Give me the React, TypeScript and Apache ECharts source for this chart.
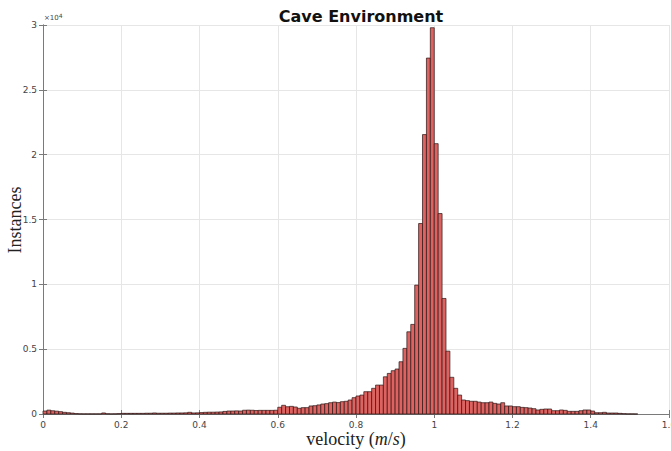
import React, { useEffect, useRef } from "react";
import * as echarts from "echarts";

// Histogram of velocities, bin width 0.01 m/s from 0 to 1.6
const binWidth = 0.01;
const xTicks = [0, 0.2, 0.4, 0.6, 0.8, 1.0, 1.2, 1.4, 1.6];
const yTickLabels = ["0", "0.5", "1", "1.5", "2", "2.5", "3"];

const counts00to20 = [
  230, 300, 250, 220, 180, 130, 100, 70, 30, 15,
  10, 10, 10, 10, 10, 80, 20, 10, 15, 30,
];
const counts20to40 = [
  50, 50, 50, 50, 50, 50, 60, 60, 80, 60,
  60, 60, 70, 70, 80, 80, 90, 130, 80, 90,
];
const counts40to60 = [
  110, 130, 140, 140, 150, 160, 200, 230, 230, 240,
  230, 290, 300, 290, 270, 280, 280, 280, 280, 290,
];
const counts60to80 = [
  520, 670, 560, 590, 540, 440, 490, 490, 620, 640,
  700, 770, 800, 870, 920, 880, 950, 980, 1080, 1260,
];
const counts80to100 = [
  1390, 1460, 1720, 1720, 1980, 2230, 2230, 2870, 3130, 3340,
  3470, 4030, 5060, 6340, 6910, 9940, 14690, 21550, 27450, 29790,
];
const counts100to120 = [
  20850, 15460, 8910, 4850, 2830, 1980, 1460, 1080, 1030, 980,
  980, 920, 870, 870, 920, 820, 770, 870, 620, 620,
];
const counts120to140 = [
  565, 565, 510, 490, 460, 410, 310, 360, 385, 385,
  255, 255, 310, 280, 205, 205, 205, 255, 310, 310,
];
const counts140to160 = [
  230, 100, 100, 130, 77, 77, 77, 50, 25, 10,
  10, 5, 0, 0, 0, 0, 0, 0, 0, 0,
];

const counts = [
  ...counts00to20,
  ...counts20to40,
  ...counts40to60,
  ...counts60to80,
  ...counts80to100,
  ...counts100to120,
  ...counts120to140,
  ...counts140to160,
];

const xAxisTitle = "velocity ({i|m}/{i|s})";
const yAxisTitle = "Instances";

export default function App() {
  const ref = useRef<HTMLDivElement>(null);

  useEffect(() => {
    document.body.style.margin = "0";
    if (!ref.current) return;
    const chart = echarts.init(ref.current, undefined, { renderer: "svg" });

    const data = counts.map((c, i) => [
      +(i * binWidth).toFixed(2),
      +((i + 1) * binWidth).toFixed(2),
      c,
    ]);

    const axisColor = "#7a7a7a";
    const gridColor = "#e6e6e6";
    const labelColor = "#444";
    const tickFont = "DejaVu Sans";
    const serif = "Liberation Serif";

    chart.setOption({
      animation: false,
      backgroundColor: "#ffffff",
      title: {
        text: "Cave Environment",
        left: 356,
        top: 3,
        textAlign: "center",
        textStyle: {
          fontFamily: "DejaVu Sans",
          fontWeight: "bold",
          fontSize: 16,
          color: "#111",
        },
      },
      grid: { left: 43, right: 2, top: 25, bottom: 37, containLabel: false, outerBoundsMode: "none" },
      xAxis: [
        {
          type: "value",
          min: 0,
          max: 1.6,
          interval: 0.2,
          axisLine: { show: true, lineStyle: { color: axisColor, width: 1 } },
          axisTick: { show: true, inside: true, length: 4, lineStyle: { color: axisColor } },
          axisLabel: {
            fontFamily: tickFont,
            fontSize: 9,
            color: labelColor,
            margin: 6,
            formatter: (v: number) => {
              const idx = xTicks.findIndex((t) => Math.abs(t - v) < 1e-6);
              if (idx < 0) return "";
              return String(+xTicks[idx].toFixed(1));
            },
          },
          splitLine: { show: true, lineStyle: { color: gridColor, width: 1 } },
        },
        {
          type: "value",
          position: "top",
          min: 0,
          max: 1.6,
          interval: 0.2,
          axisLine: { show: true, lineStyle: { color: axisColor, width: 1 } },
          axisTick: { show: true, inside: true, length: 4, lineStyle: { color: axisColor } },
          axisLabel: { show: false },
          splitLine: { show: false },
        },
      ],
      yAxis: [
        {
          type: "value",
          min: 0,
          max: 30000,
          interval: 5000,
          axisLine: { show: true, lineStyle: { color: axisColor, width: 1 } },
          axisTick: { show: true, inside: true, length: 4, lineStyle: { color: axisColor } },
          axisLabel: {
            fontFamily: tickFont,
            fontSize: 9,
            color: labelColor,
            margin: 6,
            formatter: (v: number) => yTickLabels[Math.round(v / 5000)] ?? "",
          },
          splitLine: { show: true, lineStyle: { color: gridColor, width: 1 } },
        },
        {
          type: "value",
          position: "right",
          min: 0,
          max: 30000,
          interval: 5000,
          axisLine: { show: true, lineStyle: { color: axisColor, width: 1 } },
          axisTick: { show: true, inside: true, length: 4, lineStyle: { color: axisColor } },
          axisLabel: { show: false },
          splitLine: { show: false },
        },
      ],
      graphic: [
        {
          type: "text",
          left: 44,
          top: 12,
          style: {
            rich: {
              a: { fontFamily: tickFont, fontSize: 7, fill: labelColor },
              s: { fontFamily: tickFont, fontSize: 6, fill: labelColor, verticalAlign: "top", padding: [0, 0, 5, 0] },
            },
            text: "{a|×10}{s|4}",
          },
        },
        {
          type: "text",
          x: 356,
          y: 439,
          style: {
            text: xAxisTitle,
            align: "center",
            verticalAlign: "middle",
            fontFamily: serif,
            fontSize: 18,
            fill: "#222",
            rich: {
              i: { fontFamily: serif, fontStyle: "italic", fontSize: 18, fill: "#222" },
            },
          },
        },
        {
          type: "text",
          x: 15,
          y: 220,
          rotation: Math.PI / 2,
          style: {
            text: yAxisTitle,
            align: "center",
            verticalAlign: "middle",
            fontFamily: serif,
            fontSize: 18,
            fill: "#222",
          },
        },
      ],
      series: [
        {
          type: "custom",
          xAxisIndex: 0,
          yAxisIndex: 0,
          encode: { x: [0, 1], y: 2 },
          data,
          renderItem: (params: any, api: any) => {
            const x0 = api.value(0);
            const x1 = api.value(1);
            const y = api.value(2);
            if (!y) return null;
            const p0 = api.coord([x0, y]);
            const p1 = api.coord([x1, 0]);
            return {
              type: "rect",
              shape: {
                x: p0[0],
                y: p0[1],
                width: p1[0] - p0[0],
                height: p1[1] - p0[1],
              },
              style: {
                fill: "#de625f",
                stroke: "#2a1414",
                lineWidth: 0.7,
              },
            };
          },
        },
      ],
    });

    return () => chart.dispose();
  }, []);

  return <div ref={ref} style={{ width: 671, height: 451 }} />;
}
